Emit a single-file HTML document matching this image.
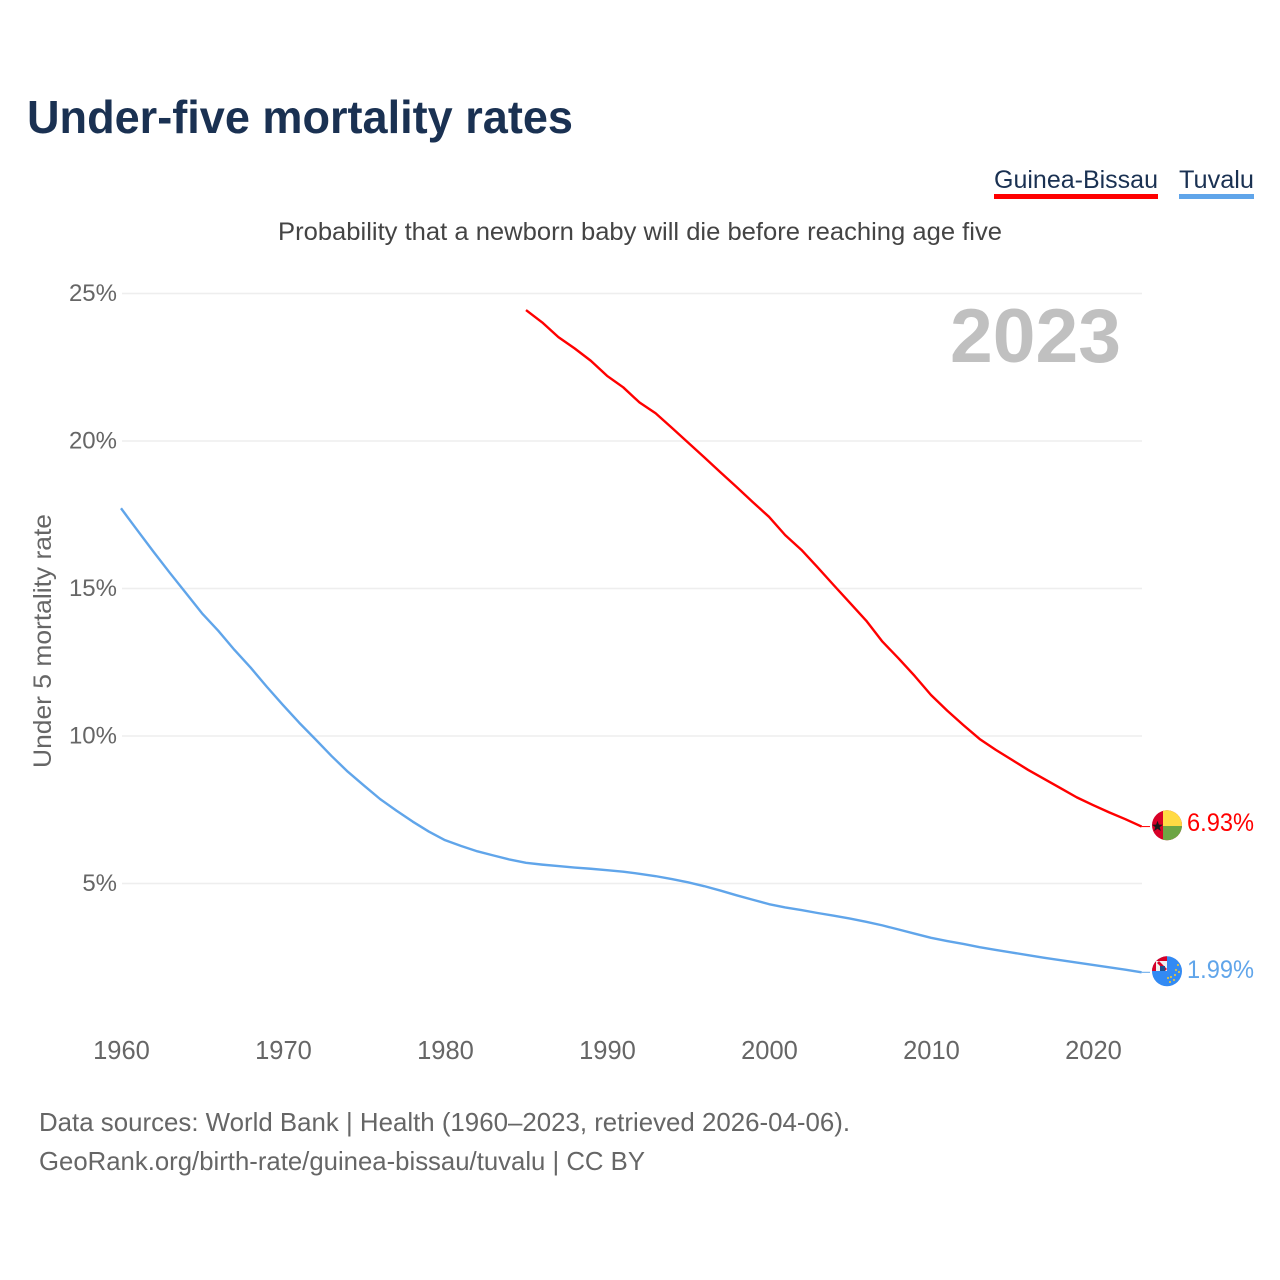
<!DOCTYPE html>
<html lang="en">
<head>
<meta charset="utf-8">
<title>Under-five mortality rates</title>
<style>
html,body{margin:0;padding:0;background:#fff;}
svg{display:block;font-family:"Liberation Sans",sans-serif;}
</style>
</head>
<body>
<svg id="chart" xmlns="http://www.w3.org/2000/svg" width="1280" height="1280" viewBox="0 0 1280 1280">
  <defs>
    <clipPath id="clip-gw"><circle cx="1167" cy="825.3" r="15"/></clipPath>
    <clipPath id="clip-tv"><circle cx="1167" cy="971.3" r="15"/></clipPath>
  </defs>
  <rect width="1280" height="1280" fill="#ffffff"/>
  <text x="27" y="133" font-size="46" font-weight="700" fill="#1a3152" textLength="546" lengthAdjust="spacingAndGlyphs">Under-five mortality rates</text>

  <g>
    <text x="994" y="188" font-size="25" fill="#1a3152" textLength="164" lengthAdjust="spacingAndGlyphs">Guinea-Bissau</text>
    <rect x="994" y="194" width="164" height="5" fill="#ff0000"/>
  </g>
  <g>
    <text x="1179" y="188" font-size="25" fill="#1a3152" textLength="75" lengthAdjust="spacingAndGlyphs">Tuvalu</text>
    <rect x="1179" y="194" width="75" height="5" fill="#60a5ea"/>
  </g>

  <text x="278" y="240" font-size="25" fill="#444444" textLength="724" lengthAdjust="spacingAndGlyphs">Probability that a newborn baby will die before reaching age five</text>

  <g id="grid"></g>
  <g id="y-ticks"></g>
  <g id="x-ticks"></g>

  <text transform="translate(51,768) rotate(-90)" font-size="25" fill="#666666" textLength="254" lengthAdjust="spacingAndGlyphs">Under 5 mortality rate</text>
  <text x="950" y="362" font-size="76" font-weight="700" fill="#c0c0c0" textLength="171" lengthAdjust="spacingAndGlyphs">2023</text>

  <g id="series"></g>

  <g clip-path="url(#clip-gw)">
    <rect x="1150" y="808" width="34" height="34" fill="#d80027"/>
    <rect x="1163" y="808" width="21" height="18" fill="#ffda44"/>
    <rect x="1163" y="826" width="21" height="16" fill="#6da544"/>
    <polygon points="1157.5,820.8 1158.9,824.6 1162.9,824.7 1159.7,827.1 1160.9,831 1157.5,828.7 1154.1,831 1155.3,827.1 1152.1,824.7 1156.1,824.6" fill="#1a1a1a"/>
  </g>
  <g clip-path="url(#clip-tv)">
    <rect x="1150" y="954" width="34" height="34" fill="#338af3"/>
    <rect x="1150" y="954" width="17" height="17" fill="#d80027"/>
    <rect x="1156" y="961" width="11" height="10" fill="#f0f0f0"/>
    <polygon points="1157,963 1159,961 1167,969 1165,971" fill="#d80027"/>
    <rect x="1160" y="966" width="5" height="5" fill="#1f4e8c"/>
    <g fill="#d9c24a">
      <circle cx="1178" cy="965" r="1.1"/><circle cx="1176" cy="970" r="1.1"/><circle cx="1179" cy="972" r="1.1"/>
      <circle cx="1175" cy="975" r="1.1"/><circle cx="1171" cy="977" r="1.1"/><circle cx="1174" cy="980" r="1.1"/>
      <circle cx="1170" cy="982" r="1.1"/><circle cx="1168" cy="978" r="1.1"/>
    </g>
  </g>

  <text x="1187" y="831" font-size="25" fill="#ff0000" textLength="67" lengthAdjust="spacingAndGlyphs">6.93%</text>
  <text x="1187" y="978" font-size="25" fill="#60a5ea" textLength="67" lengthAdjust="spacingAndGlyphs">1.99%</text>

  <text x="39" y="1131" font-size="26" fill="#666666" textLength="811" lengthAdjust="spacingAndGlyphs">Data sources: World Bank | Health (1960–2023, retrieved 2026-04-06).</text>
  <text x="39" y="1170" font-size="26" fill="#666666" textLength="606" lengthAdjust="spacingAndGlyphs">GeoRank.org/birth-rate/guinea-bissau/tuvalu | CC BY</text>
</svg>
<script>
const yTickValues = [5, 10, 15, 20, 25];
const xTickYears = [1960, 1970, 1980, 1990, 2000, 2010, 2020];
const tuvaluStartYear = 1960;
const tuvaluValues = [17.72, 16.98, 16.25, 15.54, 14.85, 14.16, 13.57, 12.92, 12.32, 11.67,
  11.05, 10.45, 9.89, 9.32, 8.79, 8.32, 7.86, 7.47, 7.10, 6.76,
  6.47, 6.27, 6.09, 5.95, 5.81, 5.70, 5.64, 5.59, 5.54, 5.50,
  5.45, 5.40, 5.33, 5.25, 5.15, 5.04, 4.91, 4.76, 4.60, 4.45,
  4.30, 4.19, 4.10, 4.00, 3.91, 3.81, 3.70, 3.58, 3.44, 3.30,
  3.16, 3.05, 2.95, 2.84, 2.75, 2.66, 2.57, 2.48, 2.40, 2.32,
  2.24, 2.16, 2.08, 1.99];
const guineaBissauStartYear = 1985;
const guineaBissauValues = [24.44, 24.02, 23.52, 23.14, 22.72, 22.21, 21.82, 21.31, 20.94, 20.45,
  19.95, 19.45, 18.94, 18.44, 17.93, 17.43, 16.81, 16.31, 15.72, 15.11,
  14.51, 13.91, 13.20, 12.63, 12.03, 11.39, 10.86, 10.37, 9.90, 9.53,
  9.19, 8.85, 8.54, 8.23, 7.92, 7.66, 7.41, 7.18, 6.93];

const NS = 'http://www.w3.org/2000/svg';
function xScale(year) { return 121 + (year - 1960) * 16.2; }
function yScale(pct) { return 1031 - pct * 29.5; }
function make(tag, parentId) {
  const el = document.createElementNS(NS, tag);
  document.getElementById(parentId).appendChild(el);
  return el;
}

yTickValues.forEach(function (v) {
  const line = make('line', 'grid');
  
  
  line.setAttribute('x1', 122);
  line.setAttribute('x2', 1142);
  line.setAttribute('y1', yScale(v));
  line.setAttribute('y2', yScale(v));
  line.setAttribute('stroke', '#eeeeee');
  line.setAttribute('stroke-width', 1.6);

  const label = make('text', 'y-ticks');
  
  
  label.setAttribute('x', 117);
  label.setAttribute('y', yScale(v) + 7.5);
  label.setAttribute('text-anchor', 'end');
  label.setAttribute('font-size', 24);
  label.setAttribute('fill', '#666666');
  label.textContent = v + '%';
});

xTickYears.forEach(function (yr) {
  const label = make('text', 'x-ticks');
  
  
  label.setAttribute('x', xScale(yr) + 0.5);
  label.setAttribute('y', 1059);
  label.setAttribute('text-anchor', 'middle');
  label.setAttribute('font-size', 25.5);
  label.setAttribute('fill', '#666666');
  label.textContent = yr;
});

function drawSeries(name, startYear, values, color) {
  const pts = values.map(function (v, i) {
    return xScale(startYear + i).toFixed(2) + ',' + yScale(v).toFixed(2);
  });
  const line = make('polyline', 'series');
  
  
  line.setAttribute('points', pts.join(' '));
  line.setAttribute('fill', 'none');
  line.setAttribute('stroke', color);
  line.setAttribute('stroke-width', 2.4);
  line.setAttribute('stroke-linejoin', 'round');

  const last = values[values.length - 1];
  const stub = make('line', 'series');
  
  
  stub.setAttribute('x1', xScale(2023));
  stub.setAttribute('x2', 1150);
  stub.setAttribute('y1', yScale(last));
  stub.setAttribute('y2', yScale(last));
  stub.setAttribute('stroke', color);
  stub.setAttribute('stroke-width', 1);
}

drawSeries('tuvalu', tuvaluStartYear, tuvaluValues, '#60a5ea');
drawSeries('guinea-bissau', guineaBissauStartYear, guineaBissauValues, '#ff0000');
</script>
</body>
</html>
